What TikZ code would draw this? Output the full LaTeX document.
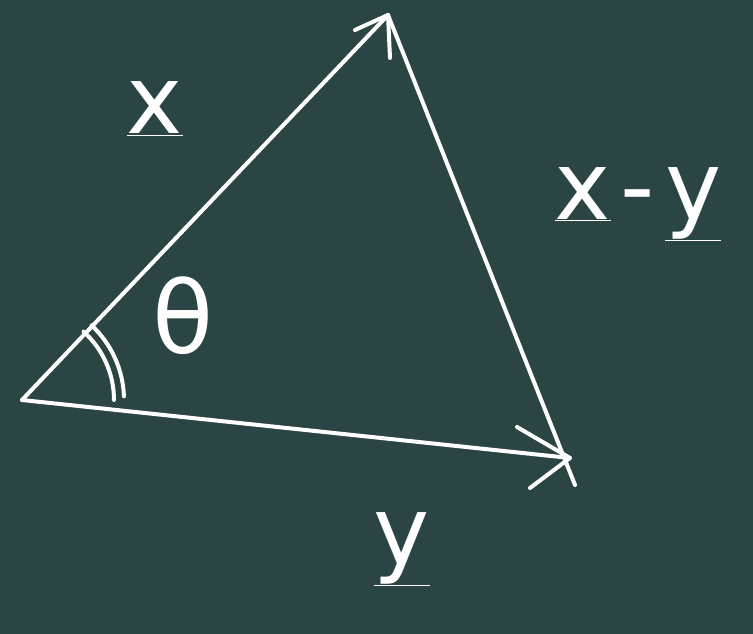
\documentclass[tikz,border=0pt]{standalone}
\usepackage{fontspec}
\newfontfamily\chalkfont{DejaVu Sans}
\definecolor{board}{RGB}{43,69,69}
\tikzset{
  chalk/.style={draw=white, line width=4pt, line cap=round, line join=round},
  lbl/.style={text=white, inner sep=0pt, font=\fontsize{95}{95}\selectfont\chalkfont}
}
\begin{document}
\begin{tikzpicture}[x=1pt,y=1pt]
\fill[board] (0,0) rectangle (753,634);
\useasboundingbox (0,0) rectangle (753,634);
% vertices
\coordinate (O) at (22,234);
\coordinate (A) at (388,619);
\coordinate (B) at (570,176);
\coordinate (C) at (575,149);
\coordinate (Ah1) at (355,604);
\coordinate (Ah2) at (390,576);
\coordinate (Bh1) at (517,207);
\coordinate (Bh2) at (530,146);
% sides
\draw[chalk] (O) -- (A);
\draw[chalk] (O) -- (B);
\draw[chalk] (A) -- (C);
% arrowheads
\draw[chalk] (Ah1) -- (A) -- (Ah2);
\draw[chalk] (Bh1) -- (B) -- (Bh2);
% angle marks
\draw[chalk] (O) ++(48:92) arc (48:0:92);
\draw[chalk] (O) ++(47:102) arc (47:2:102);
% labels
\node[lbl] (lx) at (155,525) {\underline{x}};
\node[lbl] (lxy) at (638,430) {\underline{x}\hspace{10pt}-\hspace{10pt}\underline{y}};
\node[lbl, font=\fontsize{100}{100}\selectfont\chalkfont] (lt) at (183,318) {θ};
\node[lbl] (ly) at (402,85) {\underline{y}};
\end{tikzpicture}
\end{document}
